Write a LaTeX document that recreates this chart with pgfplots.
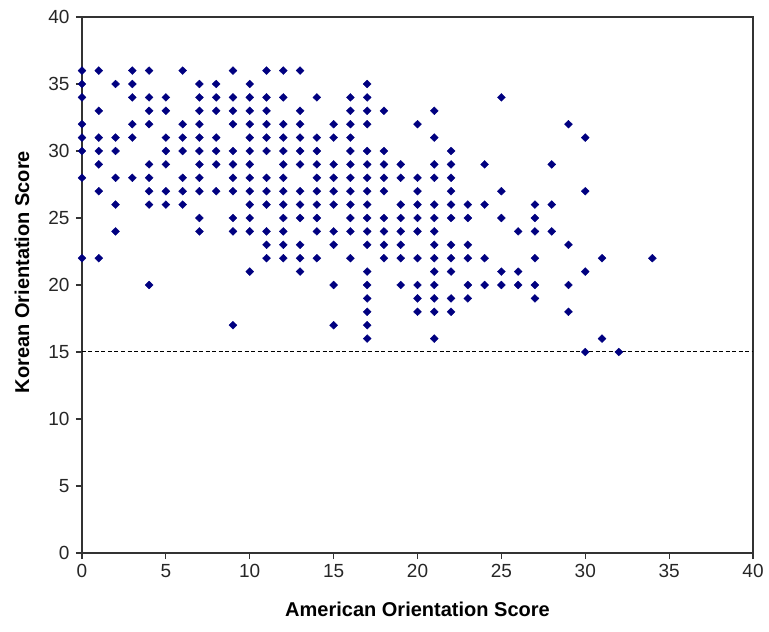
\documentclass[border=0pt]{standalone}
\usepackage{fontspec}
\setmainfont{Liberation Sans}
\usepackage{pgfplots}
\pgfplotsset{compat=1.18}
\definecolor{navypt}{HTML}{000080}
\definecolor{axgray}{HTML}{333333}

\begin{document}
\begin{tikzpicture}
\begin{axis}[
    scale only axis,
    width=671pt, height=536pt,
    xmin=0, xmax=40, ymin=0, ymax=40,
    xtick={0,5,...,40}, ytick={0,5,...,40},
    tick align=outside,
    xtick pos=bottom, ytick pos=left,
    major tick length=6pt,
    axis line style={axgray, line width=1.2pt},
    every tick/.style={axgray, line width=1.2pt},
    /pgf/number format/assume math mode=true,
    tick label style={font=\fontsize{19}{19}\selectfont, text=black!85},
    xticklabel style={yshift=-2pt},
    yticklabel style={xshift=-3pt},
    xlabel={American Orientation Score},
    ylabel={Korean Orientation Score},
    every axis x label/.style={at={(axis description cs:0.5,0)}, anchor=center, yshift=-56pt,
        font=\fontsize{20}{20}\selectfont\bfseries},
    every axis y label/.style={at={(axis description cs:0,0.524)}, anchor=center, rotate=90, yshift=60pt,
        font=\fontsize{20}{20}\selectfont\bfseries},
    clip=false,
]
\addplot[black, dashed, line width=1pt, dash pattern=on 4pt off 2.5pt] coordinates {(0,15) (40,15)};

\addplot[only marks, mark=diamond*, mark size=3.9pt, color=navypt, mark options={fill=navypt, draw=navypt, xscale=1.35}] table {
x y
0 36
0 35
0 34
0 32
0 31
0 30
0 28
0 22
1 36
1 33
1 31
1 30
1 29
1 27
1 22
2 35
2 31
2 30
2 28
2 26
2 24
3 36
3 35
3 34
3 32
3 31
3 28
4 36
4 34
4 33
4 32
4 29
4 28
4 27
4 26
4 20
5 34
5 33
5 31
5 30
5 29
5 27
5 26
6 36
6 32
6 31
6 30
6 28
6 27
6 26
7 35
7 34
7 33
7 32
7 31
7 30
7 29
7 28
7 27
7 25
7 24
8 35
8 34
8 33
8 31
8 30
8 29
8 27
9 36
9 34
9 33
9 32
9 30
9 29
9 28
9 27
9 25
9 24
9 17
10 35
10 34
10 33
10 32
10 31
10 30
10 29
10 28
10 27
10 26
10 25
10 24
10 21
11 36
11 34
11 33
11 32
11 31
11 30
11 28
11 27
11 26
11 24
11 23
11 22
12 36
12 34
12 32
12 31
12 30
12 29
12 28
12 27
12 26
12 25
12 24
12 23
12 22
13 36
13 33
13 32
13 31
13 30
13 29
13 27
13 26
13 25
13 23
13 22
13 21
14 34
14 31
14 30
14 29
14 28
14 27
14 26
14 25
14 24
14 22
15 32
15 31
15 29
15 28
15 27
15 26
15 24
15 23
15 20
15 17
16 34
16 33
16 32
16 31
16 30
16 29
16 28
16 27
16 26
16 25
16 24
16 22
17 35
17 34
17 33
17 32
17 30
17 29
17 28
17 27
17 26
17 25
17 24
17 23
17 21
17 20
17 19
17 18
17 17
17 16
18 33
18 30
18 29
18 28
18 27
18 25
18 24
18 23
18 22
19 29
19 28
19 26
19 25
19 24
19 23
19 22
19 20
20 32
20 28
20 27
20 26
20 25
20 24
20 22
20 20
20 19
20 18
21 33
21 31
21 29
21 28
21 26
21 25
21 24
21 23
21 22
21 21
21 20
21 19
21 18
21 16
22 30
22 29
22 28
22 27
22 26
22 25
22 23
22 22
22 21
22 19
22 18
23 26
23 25
23 23
23 22
23 20
23 19
24 29
24 26
24 22
24 20
25 34
25 27
25 25
25 21
25 20
26 24
26 21
26 20
27 26
27 25
27 24
27 22
27 20
27 19
28 29
28 26
28 24
29 32
29 23
29 20
29 18
30 31
30 27
30 21
30 15
31 22
31 16
32 15
34 22
};
\end{axis}
\pgfresetboundingbox
\path[use as bounding box] ([xshift=-82pt,yshift=-78pt]current axis.south west) rectangle ([xshift=16pt,yshift=17pt]current axis.north east);
\end{tikzpicture}
\end{document}
